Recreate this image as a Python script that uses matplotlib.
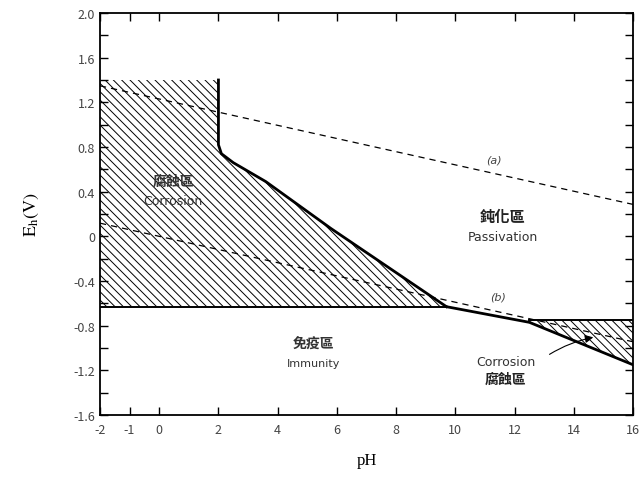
import matplotlib
matplotlib.use("Agg")
import matplotlib.pyplot as plt
import numpy as np
from matplotlib.patches import Polygon

plt.rcParams["font.family"] = ["Noto Sans CJK TC", "DejaVu Sans"]
plt.rcParams["mathtext.fontset"] = "stix"
plt.rcParams["hatch.color"] = "#666666"
plt.rcParams["hatch.linewidth"] = 0.7

# corrosion boundary (acid side), pH vs E
acid_ph = [2.0, 2.0, 2.1, 2.5, 3.6, 5.8, 9.7]
acid_e = [1.4, 0.82, 0.74, 0.66, 0.49, 0.07, -0.63]
# alkaline boundary
alk_ph = [9.7, 12.5, 16.0]
alk_e = [-0.63, -0.77, -1.15]
immunity_e = -0.63
alk_corr_top = -0.75
acid_top = 1.4

# water stability lines
water_ph = [-2, 16]
line_a = [1.23 - 0.059 * p for p in water_ph]
line_b = [-0.059 * p for p in water_ph]

xticks = [-2, -1, 0, 2, 4, 6, 8, 10, 12, 14, 16]
yticks = [2.0, 1.6, 1.2, 0.8, 0.4, 0.0, -0.4, -0.8, -1.2, -1.6]
ylabels = ["2.0", "1.6", "1.2", "0.8", "0.4", "0", "-0.4", "-0.8", "-1.2", "-1.6"]

fig = plt.figure(figsize=(6.43, 4.81), dpi=100)
ax = fig.add_axes([0.1555, 0.1351, 0.829, 0.8358])
ax.set_xlim(-2, 16)
ax.set_ylim(-1.6, 2.0)

# hatched corrosion regions
poly1 = [(-2, acid_top)] + list(zip(acid_ph, acid_e)) + [(-2, immunity_e)]
ax.add_patch(Polygon(poly1, closed=True, fill=False, hatch="\\\\\\\\", lw=0))
poly2 = [(alk_ph[1], alk_corr_top), (alk_ph[2], alk_corr_top), (alk_ph[2], alk_e[2]), (alk_ph[1], alk_e[1])]
ax.add_patch(Polygon(poly2, closed=True, fill=False, hatch="\\\\\\\\", lw=0))

# boundaries
ax.plot(acid_ph, acid_e, color="black", lw=2)
ax.plot(alk_ph, alk_e, color="black", lw=2)
ax.plot([-2, acid_ph[-1]], [immunity_e, immunity_e], color="black", lw=1.4)
ax.plot([alk_ph[1], 16], [alk_corr_top, alk_corr_top], color="black", lw=1.4)

# water lines
ax.plot(water_ph, line_a, color="black", lw=0.9, ls=(0, (5, 4)))
ax.plot(water_ph, line_b, color="black", lw=0.9, ls=(0, (5, 4)))

gray = "#444444"
ax.text(11.3, 0.69, "(a)", fontsize=8, style="italic", color=gray, ha="center", va="center", family="DejaVu Sans")
ax.text(11.45, -0.54, "(b)", fontsize=8, style="italic", color=gray, ha="center", va="center", family="DejaVu Sans")

ax.text(0.47, 0.5, "腐蝕區", fontsize=10, fontweight="bold", color="#333333", ha="center", va="center")
ax.text(0.47, 0.32, "Corrosion", fontsize=9, color="#333333", ha="center", va="center", family="DejaVu Sans")
ax.text(11.6, 0.18, "鈍化區", fontsize=11, fontweight="bold", color="#222222", ha="center", va="center")
ax.text(11.6, 0.0, "Passivation", fontsize=9, color="#333333", ha="center", va="center", family="DejaVu Sans")
ax.text(5.2, -0.96, "免疫區", fontsize=10, fontweight="bold", color="#333333", ha="center", va="center")
ax.text(5.2, -1.13, "Immunity", fontsize=8, color="#333333", ha="center", va="center", family="DejaVu Sans")
ax.text(11.7, -1.12, "Corrosion", fontsize=9, color="#333333", ha="center", va="center", family="DejaVu Sans")
ax.text(11.7, -1.28, "腐蝕區", fontsize=10, fontweight="bold", color="#222222", ha="center", va="center")

ax.annotate("", xy=(14.75, -0.9), xytext=(13.1, -1.07),
            arrowprops=dict(arrowstyle="-|>", color="black", lw=0.8,
                            mutation_scale=12, connectionstyle="arc3,rad=-0.1"))

ax.set_xticks(xticks)
ax.set_xticklabels([str(t) for t in xticks])
ax.set_yticks(yticks)
ax.set_yticklabels(ylabels)
ax.set_yticks(np.arange(-1.6, 2.01, 0.2), minor=True)
ax.tick_params(which="both", direction="in", top=True, right=True, labelsize=9,
               labelcolor="#444444", color="black")
ax.tick_params(which="major", length=6, width=1)
ax.tick_params(which="minor", length=6, width=1)
ax.tick_params(axis="x", pad=6)
for s in ax.spines.values():
    s.set_linewidth(1.3)

ax.set_xlabel("pH", family="Liberation Serif", fontsize=12, labelpad=11)
ax.set_ylabel(r"$\mathrm{E_h(V)}$", fontsize=13, labelpad=23)

fig.savefig("out.png", dpi=100)
